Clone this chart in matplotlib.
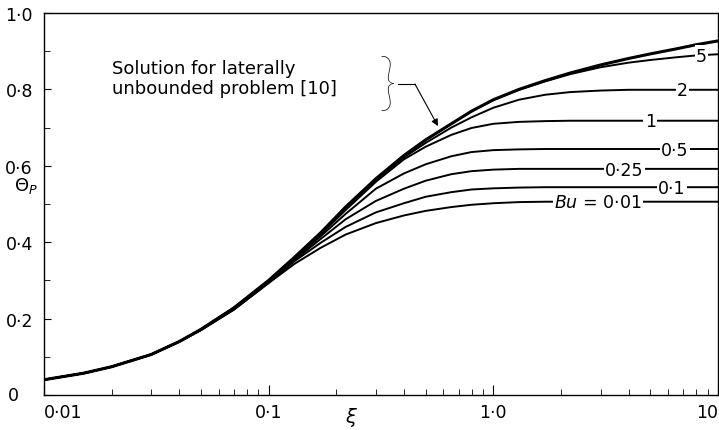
import matplotlib.pyplot as plt

# xi values (log axis) shared by all curves
xi = [0.01, 0.015, 0.02, 0.03, 0.04, 0.05, 0.07, 0.1, 0.13, 0.17, 0.22, 0.3, 0.4,
      0.5, 0.65, 0.8, 1.0, 1.3, 1.7, 2.2, 3, 4, 5, 6.5, 8, 10]

unbounded = [0.040, 0.057, 0.074, 0.106, 0.140, 0.172, 0.228, 0.300, 0.360, 0.424, 0.492, 0.566, 0.627,
             0.668, 0.710, 0.743, 0.773, 0.800, 0.823, 0.843, 0.864, 0.881, 0.893, 0.906, 0.917, 0.927]

bu_values = ['5', '2', '1', '0·5', '0·25', '0·1', '0·01']
bu_curves = [
    [0.040, 0.057, 0.074, 0.106, 0.140, 0.172, 0.228, 0.300, 0.360, 0.424, 0.492, 0.566, 0.627,
     0.668, 0.710, 0.743, 0.772, 0.799, 0.821, 0.840, 0.858, 0.870, 0.877, 0.884, 0.889, 0.892],
    [0.040, 0.057, 0.074, 0.106, 0.140, 0.172, 0.228, 0.299, 0.359, 0.423, 0.490, 0.563, 0.622,
     0.660, 0.700, 0.727, 0.752, 0.773, 0.786, 0.793, 0.797, 0.799, 0.799, 0.799, 0.799, 0.799],
    [0.040, 0.057, 0.074, 0.106, 0.140, 0.171, 0.227, 0.298, 0.358, 0.420, 0.484, 0.558, 0.617,
     0.650, 0.681, 0.699, 0.710, 0.715, 0.717, 0.718, 0.718, 0.718, 0.718, 0.718, 0.718, 0.718],
    [0.040, 0.057, 0.074, 0.106, 0.140, 0.171, 0.226, 0.296, 0.356, 0.415, 0.474, 0.540, 0.580,
     0.604, 0.625, 0.636, 0.641, 0.643, 0.644, 0.644, 0.644, 0.644, 0.644, 0.644, 0.644, 0.644],
    [0.040, 0.057, 0.074, 0.106, 0.140, 0.171, 0.225, 0.295, 0.353, 0.408, 0.460, 0.508, 0.540,
     0.561, 0.578, 0.586, 0.590, 0.592, 0.592, 0.592, 0.592, 0.592, 0.592, 0.592, 0.592, 0.592],
    [0.040, 0.057, 0.074, 0.106, 0.140, 0.170, 0.224, 0.294, 0.350, 0.398, 0.440, 0.478, 0.502,
     0.519, 0.531, 0.538, 0.541, 0.543, 0.544, 0.544, 0.544, 0.544, 0.544, 0.544, 0.544, 0.544],
    [0.040, 0.057, 0.074, 0.106, 0.139, 0.170, 0.223, 0.293, 0.343, 0.385, 0.420, 0.450, 0.470,
     0.482, 0.492, 0.498, 0.502, 0.505, 0.506, 0.506, 0.506, 0.506, 0.506, 0.506, 0.506, 0.506],
]
# where each curve label sits (xi, theta)
label_pos = [(8.45, 0.888), (6.95, 0.799), (5.0, 0.716), (6.43, 0.642), (3.83, 0.590), (6.22, 0.542), (2.93, 0.504)]

xticks = [0.01, 0.1, 1.0, 10]
xticklabels = ['0·01', '0·1', '1·0', '10']
yticks = [0, 0.2, 0.4, 0.6, 0.8, 1.0]
yticklabels = ['', '0·2', '0·4', '0·6', '0·8', '1·0']

fig = plt.figure(figsize=(7.19, 4.31), dpi=100)
ax = fig.add_axes([0.0612, 0.0812, 0.9374, 0.8863])

ax.plot(xi, unbounded, color='k', lw=2.2, solid_capstyle='butt')
for ys in bu_curves:
    ax.plot(xi, ys, color='k', lw=1.4, solid_capstyle='butt')

for name, (lx, ly) in zip(bu_values, label_pos):
    txt = name
    if name == '0·01':
        txt = r'$Bu$ = 0·01'
    ax.text(lx, ly, txt, ha='center', va='center', fontsize=12.5,
            bbox=dict(facecolor='white', edgecolor='none', pad=1.0))

ax.set_xscale('log')
ax.set_xlim(0.01, 10)
ax.set_ylim(0, 1.0)

ax.set_xticks(xticks)
ax.set_xticklabels(xticklabels, fontsize=12.5)
xl = ax.xaxis.get_majorticklabels()
xl[0].set_horizontalalignment('left')
xl[-1].set_horizontalalignment('right')
ax.set_yticks(yticks)
ax.set_yticklabels(yticklabels, fontsize=12.5)
ax.set_yticks([0.1, 0.3, 0.5, 0.7, 0.9], minor=True)
ax.tick_params(which='both', direction='in', top=False, right=False)
ax.tick_params(axis='x', which='major', length=7, pad=6)
ax.tick_params(axis='x', which='minor', length=4)
ax.tick_params(axis='y', which='major', length=5, pad=8)
ax.tick_params(axis='y', which='minor', length=4)
ax.xaxis.set_minor_formatter(plt.NullFormatter())
for sp in ax.spines.values():
    sp.set_linewidth(1.0)

ax.text(-0.046, 0.0, '0', transform=ax.transAxes, ha='center', va='center', fontsize=12.5)
ax.text(-0.027, 0.55, r'$\Theta_P$', transform=ax.get_yaxis_transform(), ha='center', va='center', fontsize=13)
ax.text(0.457, -0.055, r'$\xi$', transform=ax.transAxes, ha='center', va='center', fontsize=14)

# annotation for the unbounded solution
ax.text(0.0201, 0.83, 'Solution for laterally\nunbounded problem [10]', ha='left', va='center',
        fontsize=13, linespacing=1.15)
ax.text(0.336, 0.81, '}', ha='center', va='center', fontsize=44, family=['Lato', 'DejaVu Sans'],
        fontweight='light')
ax.plot([0.376, 0.448], [0.814, 0.814], color='k', lw=0.8)
ax.annotate('', xy=(0.567, 0.704), xytext=(0.448, 0.814),
            arrowprops=dict(arrowstyle='-|>', color='k', lw=0.8, mutation_scale=10, shrinkA=0, shrinkB=0))

fig.savefig('out.png', dpi=100)
